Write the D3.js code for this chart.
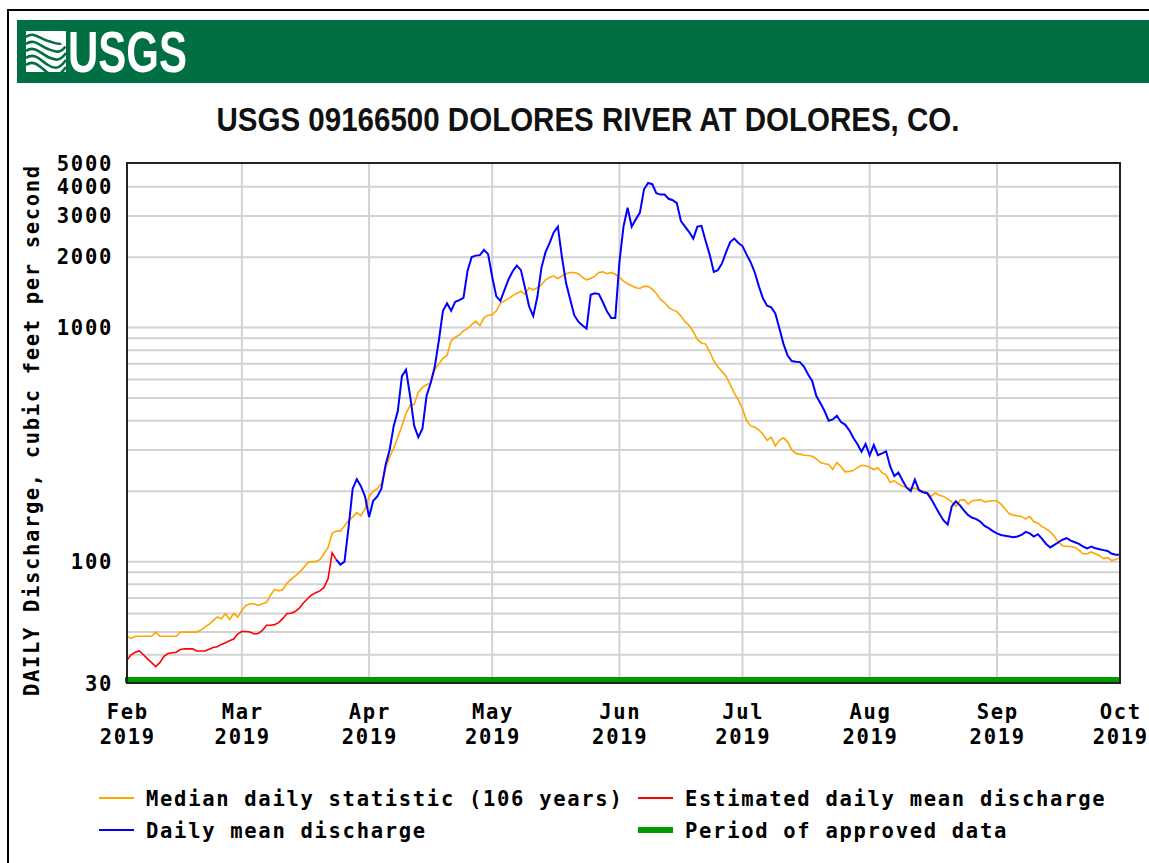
<!DOCTYPE html>
<html lang="en">
<head>
<meta charset="UTF-8">
<title>USGS 09166500 Dolores River at Dolores, CO</title>
<script src="https://d3js.org/d3.v7.min.js"></script>
<style>
  body { margin: 0; background: #fff; }
  svg { display: block; }
  .mono { font-family: "DejaVu Sans Mono", "Liberation Mono", monospace; font-weight: bold; fill: #000; font-size: 20.5px; letter-spacing: 1.7px; }
  .grid line { stroke: #d2d2d2; stroke-width: 2; }
</style>
</head>
<body>
<svg width="1149" height="863"></svg>
<script>
// ---- data (daily values, cfs) ----
const startDay = new Date(Date.UTC(2019, 1, 1));   // Feb 1 2019
const endDay = new Date(Date.UTC(2019, 9, 1));     // Oct 1 2019

// median daily statistic, Feb 1 .. Oct 1
const medianFlow = [
  48,47,48,48,48,48,48,50,48,48,
  48,48,48,50,50,50,50,50,51,52.5,
  54,56,58,57,60,56.5,60,58,62,65,
  66,66,65,66,67,72,76,75,76,81,
  84,87,90,94,99,100,100,102,108,115,
  132,135,135,142,150,155,162,157,168,190,
  200,205,215,250,280,305,340,380,430,465,
  470,530,555,570,580,660,700,740,760,880,
  910,930,970,990,1030,1065,1020,1100,1130,1135,
  1180,1270,1300,1330,1370,1400,1430,1390,1480,1450,
  1480,1520,1600,1640,1660,1620,1660,1700,1720,1720,
  1700,1640,1600,1620,1660,1720,1730,1700,1720,1690,
  1640,1580,1540,1510,1480,1470,1500,1500,1460,1400,
  1320,1280,1220,1190,1170,1120,1060,1020,960,890,
  860,850,790,720,680,650,620,570,525,490,
  450,400,380,375,365,350,330,340,312,330,
  338,325,300,290,288,285,284,282,275,265,
  262,260,248,265,255,242,243,245,252,258,
  257,253,247,252,240,235,218,222,215,210,
  208,205,206,203,200,198,190,197,192,190,
  185,180,172,183,184,176,182,183,184,180,
  181,182,182,176,168,160,158,157,156,152,
  156,148,146,141,138,134,128,121,117,116,
  116,115,112,108,108,110,108,106,103,104,
  101,102,104
];

// estimated daily mean discharge, Feb 1 .. Mar 24
const estimatedFlow = [
  38,40,41,41.5,40,38.4,37,35.6,37,39.4,
  40.5,40.8,41,42.1,42.4,42.4,42.4,41.5,41.5,41.5,
  42.2,43,43.3,44.3,45,45.9,46.7,49.1,50.3,50.3,
  50,49.1,49.3,50.8,53.5,53.5,53.8,55,57.2,60,
  60.2,61.2,63.3,66.6,69.4,72,73.7,75,77.6,84.4,
  109,102
];

// daily mean discharge, Mar 24 .. Oct 1
const dailyStart = 51;
const dailyFlow = [
  102,97,100,140,205,225,210,190,155,
  182,190,205,258,300,380,440,620,660,510,
  380,340,370,510,580,680,880,1180,1270,1180,
  1290,1310,1340,1750,2000,2030,2040,2150,2060,1650,
  1360,1300,1450,1610,1740,1840,1760,1480,1230,1120,
  1350,1800,2100,2300,2550,2700,2000,1550,1320,1130,
  1060,1020,990,1380,1400,1390,1280,1170,1100,1100,
  1900,2700,3250,2700,2900,3100,3900,4150,4100,3750,
  3700,3700,3550,3500,3400,2850,2700,2560,2400,2700,
  2720,2350,2050,1730,1760,1880,2100,2320,2400,2300,
  2230,2050,1900,1720,1500,1330,1240,1220,1150,990,
  850,760,720,715,712,680,630,590,510,475,
  440,400,405,420,395,385,365,338,318,295,
  318,285,315,285,290,296,255,232,240,222,
  207,200,224,202,198,196,185,172,160,150,
  144,172,181,174,165,158,154,152,148,142,
  139,135,132,130,129,128,127,128,130,134,
  132,128,131,125,119,115,118,121,124,126,
  123,121,119,116,114,116,114,113,112,111,
  108,107,107
];

const monthLabels = ["Feb", "Mar", "Apr", "May", "Jun", "Jul", "Aug", "Sep", "Oct"];
const yearLabel = "2019";
const yTickValues = [30, 100, 1000, 2000, 3000, 4000, 5000];
const yGridValues = [40, 50, 60, 70, 80, 90, 100, 200, 300, 400, 500, 600, 700, 800, 900, 1000, 2000, 3000, 4000];

const legendItems = [
  { label: "Median daily statistic (106 years)", color: "#ffa500", width: 2, col: 0, row: 0 },
  { label: "Estimated daily mean discharge", color: "#ff0000", width: 2, col: 1, row: 0 },
  { label: "Daily mean discharge", color: "#0000ff", width: 2, col: 0, row: 1 },
  { label: "Period of approved data", color: "#009900", width: 6, col: 1, row: 1 }
];

// ---- layout ----
const svg = d3.select("svg");
const plot = { left: 127, right: 1120, top: 164, bottom: 684 };

const x = d3.scaleUtc().domain([startDay, endDay]).range([plot.left, plot.right]);
const y = d3.scaleLog().domain([30, 5000]).range([plot.bottom, plot.top]);

const dayAt = i => d3.utcDay.offset(startDay, i);

svg.append("rect").attr("width", 1149).attr("height", 863).attr("fill", "#fff");

// outer frame
svg.append("path")
  .attr("d", "M8,863 V10 H1149")
  .attr("fill", "none").attr("stroke", "#000").attr("stroke-width", 2);

// header banner
svg.append("rect")
  .attr("x", 17).attr("y", 20).attr("width", 1140).attr("height", 63)
  .attr("fill", "#006f41");

// logo waves
const logo = svg.append("g").attr("transform", "translate(26,31)");
logo.append("rect").attr("width", 40).attr("height", 41).attr("fill", "#fff");
[6, 13, 20, 27, 34].forEach((o, i) => {
  logo.append("path")
    .attr("d", `M0,${o} C8,${o - 6} 14,${o + 2} 22,${o + 4 + i} S34,${o + 10} 40,${o + 2}`)
    .attr("fill", "none").attr("stroke", "#006f41").attr("stroke-width", 2.6);
});
logo.append("path")
  .attr("d", "M18,0 L40,0 L40,16 Z")
  .attr("fill", "#fff");

svg.append("text")
  .attr("x", 68).attr("y", 72)
  .attr("textLength", 119).attr("lengthAdjust", "spacingAndGlyphs")
  .attr("font-family", "'Liberation Sans Narrow', 'Liberation Sans', Arial, sans-serif")
  .attr("font-weight", "bold").attr("font-size", 57).attr("fill", "#fff")
  .text("USGS");

// title
svg.append("text")
  .attr("x", 588).attr("y", 131)
  .attr("text-anchor", "middle")
  .attr("textLength", 743).attr("lengthAdjust", "spacingAndGlyphs")
  .attr("font-family", "'Liberation Sans Narrow', 'Liberation Sans', Arial, sans-serif")
  .attr("font-weight", "bold").attr("font-size", 33).attr("fill", "#111")
  .text("USGS 09166500 DOLORES RIVER AT DOLORES, CO.");

// grid
const grid = svg.append("g").attr("class", "grid");
grid.selectAll("line.h").data(yGridValues).enter().append("line")
  .attr("class", "h")
  .attr("x1", plot.left).attr("x2", plot.right)
  .attr("y1", d => y(d)).attr("y2", d => y(d));

const monthTicks = d3.utcMonth.range(startDay, d3.utcDay.offset(endDay, 1));
grid.selectAll("line.v").data(monthTicks.slice(1, -1)).enter().append("line")
  .attr("class", "v")
  .attr("x1", d => x(d)).attr("x2", d => x(d))
  .attr("y1", plot.top).attr("y2", plot.bottom);

// series
const line = d3.line().x(d => x(d.date)).y(d => y(d.value));

const medianPts = medianFlow.map((v, i) => ({ date: dayAt(i), value: v }));
const estPts = estimatedFlow.map((v, i) => ({ date: dayAt(i), value: v }));
const dailyPts = dailyFlow.map((v, i) => ({ date: dayAt(dailyStart + i), value: v }));

svg.append("path").datum(medianPts).attr("d", line)
  .attr("fill", "none").attr("stroke", "#ffa500").attr("stroke-width", 1.6);
svg.append("path").datum(estPts).attr("d", line)
  .attr("fill", "none").attr("stroke", "#ff0000").attr("stroke-width", 1.6);
svg.append("path").datum(dailyPts).attr("d", line)
  .attr("fill", "none").attr("stroke", "#0000ff").attr("stroke-width", 2);

// approved data bar
svg.append("rect")
  .attr("x", x(startDay) - 2).attr("y", plot.bottom - 7)
  .attr("width", x(endDay) - x(startDay) + 2).attr("height", 6)
  .attr("fill", "#009900");

// frame
svg.append("rect")
  .attr("x", plot.left).attr("y", plot.top - 1)
  .attr("width", plot.right - plot.left).attr("height", plot.bottom - plot.top)
  .attr("fill", "none").attr("stroke", "#222").attr("stroke-width", 2);

// y tick labels
svg.selectAll("text.ytick").data(yTickValues).enter().append("text")
  .attr("class", "mono ytick")
  .attr("x", 113).attr("y", d => y(d) + 7)
  .attr("text-anchor", "end")
  .text(d => d);

// x tick labels
const xt = svg.selectAll("g.xtick").data(monthTicks).enter().append("g")
  .attr("class", "xtick")
  .attr("transform", d => `translate(${x(d) + 0.8},0)`);
xt.append("text").attr("class", "mono")
  .attr("y", 719).attr("text-anchor", "middle")
  .text((d, i) => monthLabels[i]);
xt.append("text").attr("class", "mono")
  .attr("y", 744).attr("text-anchor", "middle")
  .text(yearLabel);

// y axis title
svg.append("text").attr("class", "mono")
  .attr("transform", "translate(39,431) rotate(-90)")
  .attr("text-anchor", "middle")
  .style("letter-spacing", "0px")
  .attr("textLength", 530).attr("lengthAdjust", "spacing")
  .text("DAILY Discharge, cubic feet per second");

// legend
const leg = svg.selectAll("g.legend").data(legendItems).enter().append("g")
  .attr("class", "legend")
  .attr("transform", d => `translate(${d.col ? 638 : 99},${d.row ? 830 : 798})`);
leg.append("line")
  .attr("x1", 0).attr("x2", 35)
  .attr("stroke", d => d.color).attr("stroke-width", d => d.width);
leg.append("text").attr("class", "mono")
  .attr("x", 47).attr("y", 8)
  .text(d => d.label);
</script>
</body>
</html>
